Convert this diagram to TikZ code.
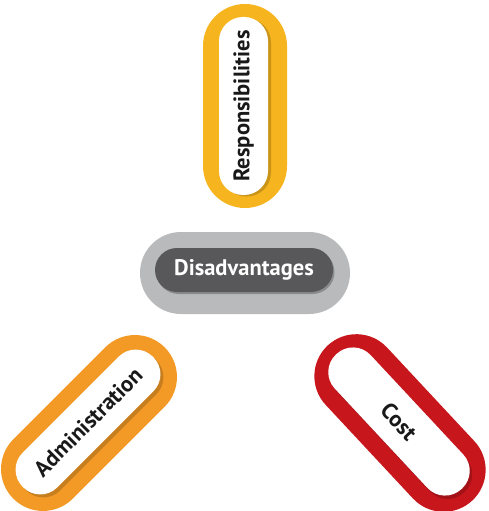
\documentclass[tikz,border=0pt]{standalone}
\usepackage{fontspec}
\setmainfont{PT Sans}
\definecolor{ryellow}{HTML}{F6B51E}
\definecolor{aorange}{HTML}{F39A26}
\definecolor{cred}{HTML}{C8161D}
\definecolor{dgreyout}{HTML}{B9BABC}
\definecolor{dgreyin}{HTML}{58585A}
\begin{document}
\begin{tikzpicture}[x=1pt,y=-1pt,
  outercap/.style={rectangle, rounded corners=42pt, minimum width=204pt, minimum height=84pt, inner sep=0pt},
  innercap/.style={rectangle, rounded corners=24pt, fill=white, minimum width=178pt, minimum height=49pt, inner sep=0pt},
  capshadow/.style={rectangle, rounded corners=24pt, fill=black, opacity=0.18, minimum width=178pt, minimum height=49pt, inner sep=0pt},
  lbl/.style={font=\fontsize{22.5}{22.5}\selectfont\bfseries, text=black!90, inner sep=0pt}]
\useasboundingbox (0,0) rectangle (489,511);
% Responsibilities
\node[outercap, fill=ryellow, rotate=90] (resp) at (245,106) {};
\node[capshadow, rotate=90] (respsh) at (246.5,107.5) {};
\node[innercap, rotate=90] (respin) at (243.5,106) {};
\node[lbl, rotate=90] (resplbl) at (respin) {Responsibilities};
% Disadvantages
\node[rectangle, rounded corners=41pt, fill=dgreyout, minimum width=210pt, minimum height=82pt] (dis) at (245,273) {};
\node[rectangle, rounded corners=22pt, fill=black, opacity=0.25, minimum width=178pt, minimum height=44pt] (dissh) at (245.5,272) {};
\node[rectangle, rounded corners=22pt, fill=dgreyin, minimum width=178pt, minimum height=44pt] (disin) at (244,270) {};
\node[lbl, text=white] (dislbl) at (disin) {Disadvantages};
% Administration
\node[outercap, fill=aorange, rotate=45, minimum width=214pt] (adm) at (89,423) {};
\node[capshadow, rotate=45, minimum width=184pt] (admsh) at (91,425) {};
\node[innercap, rotate=45, minimum width=184pt] (admin) at (88,422) {};
\node[lbl, rotate=45] (admlbl) at (admin) {Administration};
% Cost
\node[outercap, fill=cred, rotate=-47, minimum width=212pt] (cost) at (400,423) {};
\node[capshadow, rotate=-47, minimum width=184pt] (costsh) at (401.5,425) {};
\node[innercap, rotate=-47, minimum width=184pt] (costin) at (399,421.5) {};
\node[lbl, rotate=-47] (costlbl) at (costin) {Cost};
\end{tikzpicture}
\end{document}
